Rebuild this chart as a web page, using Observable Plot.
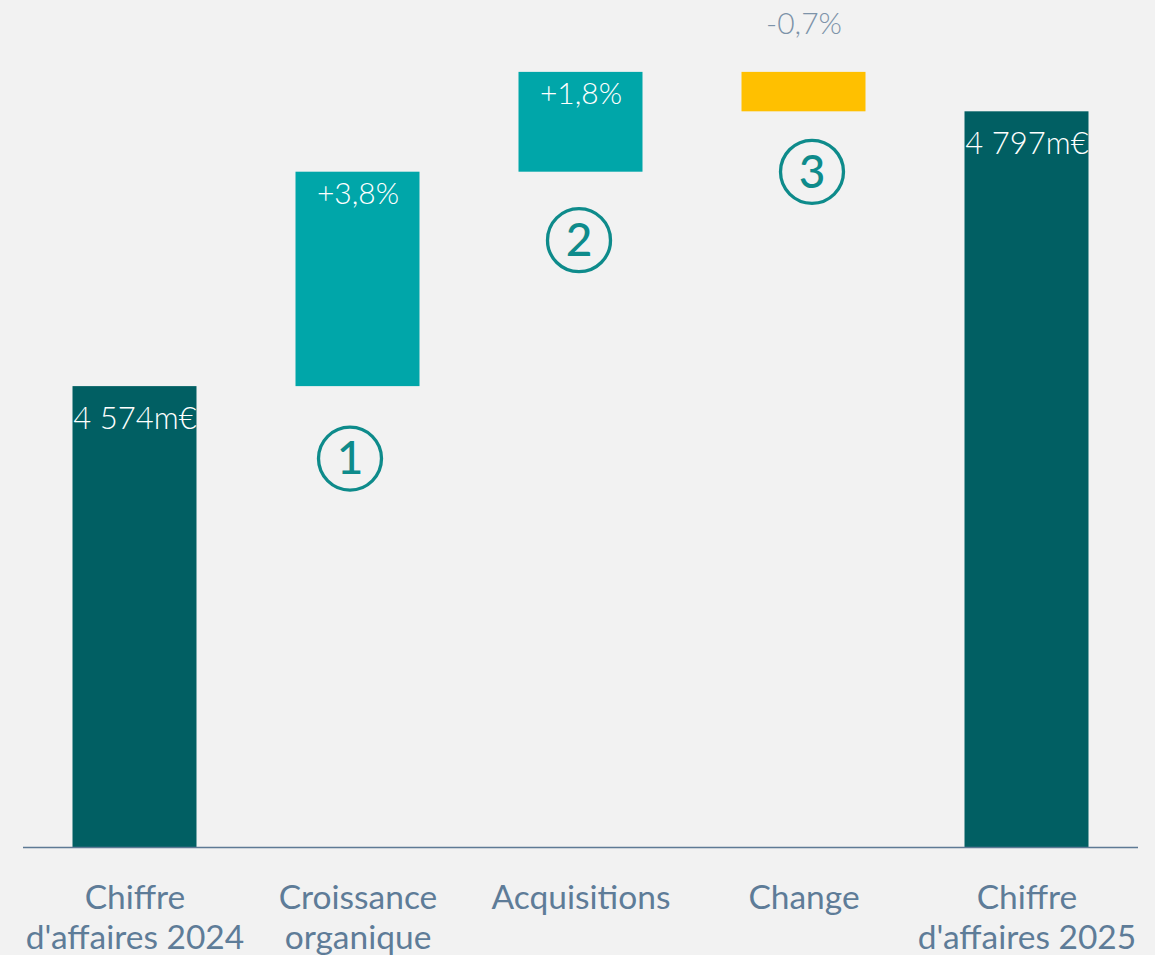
<!DOCTYPE html>
<html>
<head>
<meta charset="utf-8">
<script src="https://cdn.jsdelivr.net/npm/d3@7"></script>
<script src="https://cdn.jsdelivr.net/npm/@observablehq/plot@0.6"></script>
<style>
  html, body { margin: 0; padding: 0; background: #f2f2f2; }
  #chart svg { display: block; }
</style>
</head>
<body>
<div id="chart"></div>
<script>
// ---- Data ----
const steps = ["Chiffre d'affaires 2024", "Croissance organique", "Acquisitions", "Change", "Chiffre d'affaires 2025"];
const axisLabels = ["Chiffre\nd'affaires 2024", "Croissance\norganique", "Acquisitions", "Change", "Chiffre\nd'affaires 2025"];
const kinds = ["total", "increase", "increase", "decrease", "total"];
const amounts = [4574, 174, 81, -32, 4797]; // m€ (totals) or deltas
const valueLabels = ["4 574m€", "+3,8%", "+1,8%", "-0,7%", "4 797m€"];
const annotSteps = ["Croissance organique", "Acquisitions", "Change"];
const annotNumbers = ["1", "2", "3"];
const axisBase = 4200;

// ---- Build waterfall table ----
let running = 0;
const rows = steps.map((s, i) => {
  let low, high;
  if (kinds[i] === "total") {
    low = axisBase; high = amounts[i]; running = amounts[i];
  } else {
    const start = running, end = running + amounts[i];
    low = Math.min(start, end); high = Math.max(start, end); running = end;
  }
  return {step: s, kind: kinds[i], low, high, label: valueLabels[i], axis: axisLabels[i]};
});
const axisMap = new Map(rows.map(r => [r.step, r.axis]));
const annots = annotSteps.map((s, i) => {
  const r = rows.find(d => d.step === s);
  return {step: s, n: annotNumbers[i], y: r.low};
});
// small visual offsets (pixels) of the circled markers
const annotDx = [-8, -2, 8];
const annotDy = [72, 68, 60];

const teal = "#0e8b8b";
const chart = Plot.plot({
  width: 1155,
  height: 955,
  marginTop: 46,
  marginBottom: 108,
  marginLeft: 23,
  marginRight: 17,
  style: {background: "#f2f2f2", fontFamily: "Lato, 'Open Sans', sans-serif", overflow: "visible"},
  x: {domain: steps, paddingInner: 0.444, paddingOuter: 0.222, round: false, axis: null},
  y: {domain: [axisBase, 4850], axis: null},
  color: {domain: ["total", "increase", "decrease"], range: ["#015f63", "#00a6a9", "#ffc000"]},
  marks: [
    Plot.barY(rows, {x: "step", y1: "low", y2: "high", fill: "kind"}),
    Plot.ruleY([axisBase], {stroke: "#5e7a95", strokeWidth: 1.3}),
    Plot.axisX({
      tickSize: 0, tickPadding: 33, fontSize: 33.5, lineHeight: 1.19,
      fill: "#5e7c98", tickFormat: d => axisMap.get(d), label: null
    }),
    // totals labels (inside, top)
    Plot.text(rows.filter(d => d.kind === "total"), {
      x: "step", y: "high", text: "label", fill: "white", fontSize: 31, fontWeight: 300,
      lineAnchor: "top", dy: 20
    }),
    // increases labels (inside, top)
    Plot.text(rows.filter(d => d.kind === "increase"), {
      x: "step", y: "high", text: "label", fill: "white", fontSize: 30, fontWeight: 300,
      lineAnchor: "top", dy: 10
    }),
    // decrease label (above)
    Plot.text(rows.filter(d => d.kind === "decrease"), {
      x: "step", y: "high", text: "label", fill: "#7d93a9", fontSize: 30, fontWeight: 300,
      lineAnchor: "top", dy: -60
    }),
    // circled numbers
    ...annots.flatMap((a, i) => [
      Plot.dot([a], {x: "step", y: "y", r: 31.5, stroke: teal, strokeWidth: 3.3, fill: "none", dx: annotDx[i], dy: annotDy[i]}),
      Plot.text([a], {x: "step", y: "y", text: "n", fill: teal, fontSize: 46, fontWeight: 500, dx: annotDx[i], dy: annotDy[i] + 1})
    ])
  ]
});
document.getElementById("chart").appendChild(chart);
</script>
</body>
</html>
